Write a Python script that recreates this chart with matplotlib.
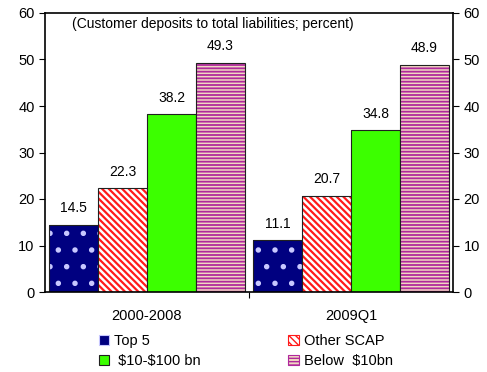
import matplotlib
matplotlib.use("Agg")
import matplotlib.pyplot as plt
from matplotlib.patches import Patch
import numpy as np

plt.rcParams['font.family'] = ['Liberation Sans', 'DejaVu Sans']

periods = ["2000-2008", "2009Q1"]
series = ["Top 5", "Other SCAP", " \\$10-\\$100 bn", "Below  \\$10bn"]
top5 = [14.5, 11.1]
other_scap = [22.3, 20.7]
mid_banks = [38.2, 34.8]
small_banks = [49.3, 48.9]
values = [top5, other_scap, mid_banks, small_banks]

faces = ['#000080', '#ffffff', '#3cff00', '#f0d8c0']
hatches = ['.', '\\\\\\\\\\', None, '-----']
hatch_cols = ['#c8c8ff', '#ff1a1a', None, '#b0289c']
hatch_lw = [1.5, 1.6, 1.0, 1.3]

fig = plt.figure(figsize=(4.87, 3.72), dpi=100)
ax = fig.add_axes([45/487, 1-292/372, 408/487, (292-13)/372])

x = np.arange(len(periods))
w = 0.24
offsets = (np.arange(4) - 1.5) * w
for i in range(4):
    pos = x + offsets[i]
    plt.rcParams['hatch.linewidth'] = hatch_lw[i]
    if hatches[i]:
        ax.bar(pos, values[i], w, color=faces[i], hatch=hatches[i],
               edgecolor=hatch_cols[i], linewidth=0)
    else:
        ax.bar(pos, values[i], w, color=faces[i], linewidth=0)
    ax.bar(pos, values[i], w, fill=False, edgecolor='#202020', linewidth=0.8)
    for p, v in zip(pos, values[i]):
        ax.text(p, v + 2.0, f"{v:.1f}", ha='center', va='bottom', fontsize=10,
                bbox=dict(facecolor='white', edgecolor='none', pad=1.5))

ax.set_xlim(-0.5, 1.5)
ax.set_ylim(0, 60)
ax.set_yticks(np.arange(0, 61, 10))
ax.tick_params(axis='y', which='both', direction='out', length=4, labelsize=10.5,
               right=True, labelright=True)
ax.set_xticks([0.5])
ax.set_xticklabels([''])
ax.tick_params(axis='x', direction='out', length=4)
for xi, lab in zip(x, periods):
    ax.text(xi, -3.6, lab, ha='center', va='top', fontsize=10.5,
            transform=ax.transData)
for s in ax.spines.values():
    s.set_linewidth(1.2)

ax.text(0.066, 0.985, "(Customer deposits to total liabilities; percent)",
        transform=ax.transAxes, ha='left', va='top', fontsize=10)

plt.rcParams['hatch.linewidth'] = 1.0
handles = []
for i in range(4):
    handles.append(Patch(facecolor=faces[i], hatch=hatches[i],
                         edgecolor=hatch_cols[i] if hatch_cols[i] else '#202020',
                         linewidth=0.8))
order = [0, 2, 1, 3]
leg = fig.legend([handles[i] for i in order], [series[i] for i in order],
                 ncol=2, loc='center', bbox_to_anchor=(0.505, 1 - 351/372),
                 frameon=False, fontsize=10.5, handlelength=0.7, handleheight=0.7,
                 handletextpad=0.35, columnspacing=6.0, labelspacing=0.45,
                 borderpad=0)

fig.savefig("out.png", dpi=100)
